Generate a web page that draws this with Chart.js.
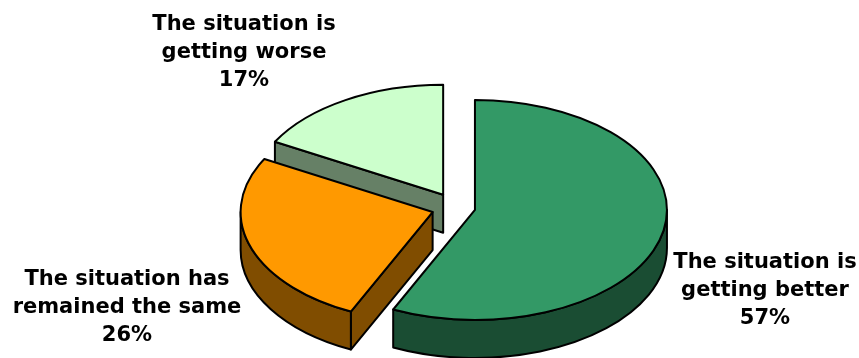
<!DOCTYPE html>
<html><head><meta charset="utf-8">
<script src="https://cdn.jsdelivr.net/npm/chart.js@4.4.1/dist/chart.umd.min.js"></script>
<style>html,body{margin:0;padding:0;background:#fff;overflow:hidden}#wrap{width:859px;height:358px;position:relative}</style>
</head><body><div id="wrap"><canvas id="c" width="859" height="358"></canvas></div>
<script>
const categories = ['The situation is getting better', 'The situation has remained the same', 'The situation is getting worse'];
const values = [57, 26, 17];
const labelLines = [['The situation is', 'getting better'], ['The situation has', 'remained the same'], ['The situation is', 'getting worse']];
const topColors = ['#339966', '#FF9900', '#CCFFCC'];
const sideColors = ['#1A4D33', '#804D00', '#668066'];

const VIEW = { cx: 456.4, cy: 207.6, rx: 192, ry: 110, depth: 38, explode: [19, 25, 26] };
const LABEL_POS = [{ x: 765, y: 267.5 }, { x: 127, y: 284.5 }, { x: 244, y: 30 }];
const LINE_H = 28;

function geometry(chart) {
  const arcs = chart.getDatasetMeta(0).data;
  return arcs.map((a, i) => {
    const p = a.getProps(['x', 'y', 'startAngle', 'endAngle', 'outerRadius'], true);
    const m = (p.startAngle + p.endAngle) / 2;
    const e = VIEW.explode[i];
    return { a, p, i, m, px: VIEW.cx + e * Math.cos(m), py: VIEW.cy + e * VIEW.ry / VIEW.rx * Math.sin(m) };
  });
}

const pie3d = {
  id: 'pie3d',
  beforeDatasetsDraw(chart) {
    const ctx = chart.ctx;
    const geo = geometry(chart).sort((g1, g2) => Math.sin(g1.m) - Math.sin(g2.m));
    const D = VIEW.depth, RX = VIEW.rx, RY = VIEW.ry;
    const pt = (g, t, dy) => [g.px + RX * Math.cos(t), g.py + RY * Math.sin(t) + (dy || 0)];
    ctx.save();
    ctx.lineWidth = 2; ctx.lineJoin = 'round'; ctx.strokeStyle = '#000';
    // sides
    geo.forEach(g => {
      const s = g.p.startAngle, e = g.p.endAngle;
      ctx.fillStyle = sideColors[g.i];
      const wall = (t) => {
        const a = pt(g, t), b = pt(g, t, D);
        ctx.beginPath();
        ctx.moveTo(g.px, g.py); ctx.lineTo(a[0], a[1]); ctx.lineTo(b[0], b[1]); ctx.lineTo(g.px, g.py + D);
        ctx.closePath(); ctx.fill(); ctx.stroke();
      };
      if (Math.cos(s) < -1e-3) wall(s);
      if (Math.cos(e) > 1e-3) wall(e);
      for (let k = -1; k <= 1; k++) {
        const lo = Math.max(s, 2 * Math.PI * k), hi = Math.min(e, Math.PI + 2 * Math.PI * k);
        if (hi > lo) {
          ctx.beginPath();
          ctx.ellipse(g.px, g.py, RX, RY, 0, lo, hi, false);
          ctx.ellipse(g.px, g.py + D, RX, RY, 0, hi, lo, true);
          ctx.closePath(); ctx.fill(); ctx.stroke();
        }
      }
    });
    // tops
    geo.forEach(g => {
      const R = g.p.outerRadius;
      ctx.save();
      ctx.translate(g.px, g.py);
      ctx.scale(RX / R, RY / R);
      ctx.translate(-g.p.x, -g.p.y);
      g.a.draw(ctx);
      ctx.restore();
      ctx.beginPath();
      ctx.moveTo(g.px, g.py);
      ctx.ellipse(g.px, g.py, RX, RY, 0, g.p.startAngle, g.p.endAngle, false);
      ctx.closePath(); ctx.stroke();
    });
    ctx.restore();
    return false;
  },
  afterDraw(chart) {
    const ctx = chart.ctx;
    ctx.save();
    ctx.font = 'bold 21px "DejaVu Sans"';
    ctx.fillStyle = '#000';
    ctx.textAlign = 'center';
    ctx.textBaseline = 'alphabetic';
    values.forEach((v, i) => {
      const lines = labelLines[i].concat([v + '%']);
      lines.forEach((t, j) => ctx.fillText(t, LABEL_POS[i].x, LABEL_POS[i].y + j * LINE_H));
    });
    ctx.restore();
  }
};

new Chart(document.getElementById('c'), {
  type: 'pie',
  data: { labels: categories, datasets: [{ data: values, backgroundColor: topColors, borderWidth: 0 }] },
  options: {
    responsive: false, animation: false, devicePixelRatio: 1, events: [],
    plugins: { legend: { display: false }, tooltip: { enabled: false } }
  },
  plugins: [pie3d]
});
</script></body></html>
